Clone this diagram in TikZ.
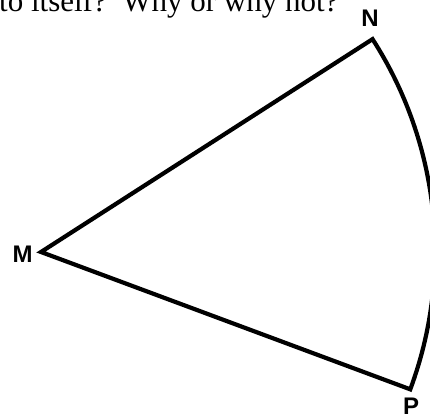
\documentclass[tikz,border=0pt]{standalone}
\usepackage{fontspec}
\setmainfont{Liberation Serif}
\newfontfamily\labelfont{Liberation Sans}
\usetikzlibrary{calc}
\begin{document}
\begin{tikzpicture}[x=1pt,y=1pt,
  vlabel/.style={font=\labelfont\bfseries\fontsize{24}{24}\selectfont, inner sep=0pt},
  edge/.style={line width=4.2pt, line join=miter, miter limit=20}]
\useasboundingbox (0,0) rectangle (430,-419);
\clip (0,0) rectangle (430,-419);
\node[anchor=base west, inner sep=0pt, font=\fontsize{31}{31}\selectfont] (q) at (-1,-11.5) {to itself?\ \ Why or why not?};
\coordinate (M) at (41,-252);
\coordinate (N) at ($(M)+(32.7:394)$);
\coordinate (P) at ($(M)+(-20.4:394)$);
\draw[edge] (M) -- (N) arc[start angle=32.7, end angle=-20.4, radius=394] -- (P) -- cycle;
\node[vlabel] (lN) at (370,-18) {N};
\node[vlabel] (lM) at (22.5,-254) {M};
\node[vlabel] (lP) at (411,-406.5) {P};
\end{tikzpicture}
\end{document}
